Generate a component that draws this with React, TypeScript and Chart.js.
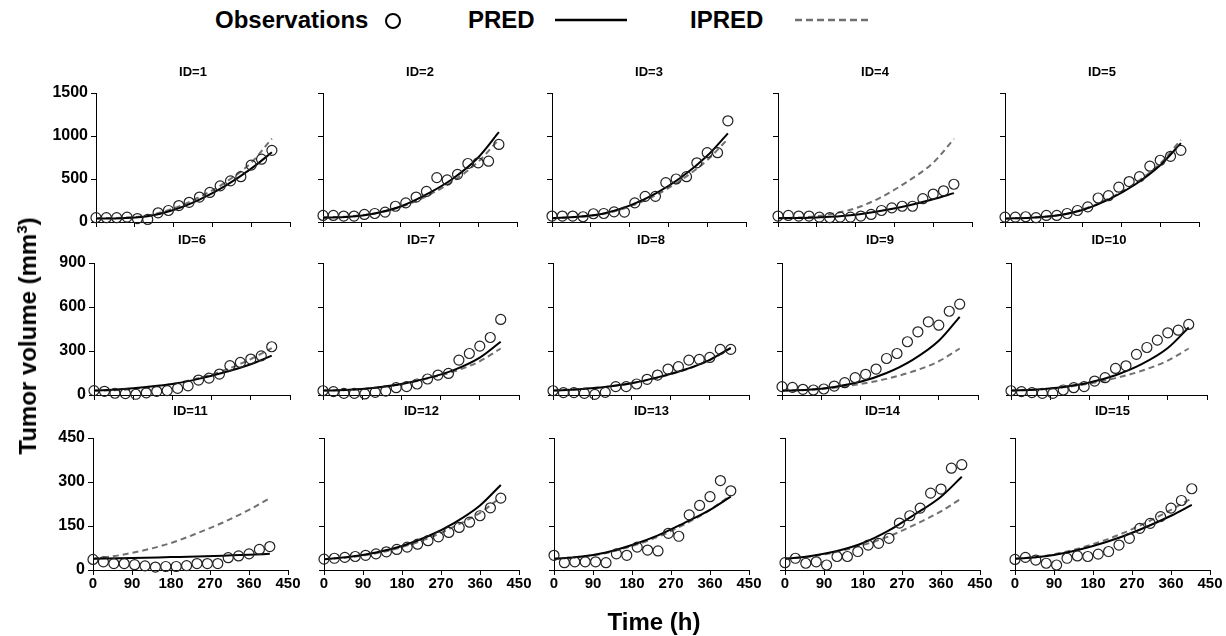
import React, { useEffect, useRef } from 'react';
import { Chart, registerables } from 'chart.js';

Chart.register(...registerables);
Chart.defaults.font.family = '"Liberation Sans", Arial, sans-serif';

// ---------------- data ----------------
const obsTimes = [0, 24, 48, 72, 96, 120, 144, 168, 192, 216, 240, 264, 288, 312, 336, 360, 384, 408];
const curveTimes = [0, 60, 120, 180, 240, 300, 360, 408];
const xTickMax = 450;
const xTickStep = 90;
const rowYMax = [1500, 900, 450];
const rowYStep = [500, 300, 150];

const obs1 = [50, 50, 50, 57, 40, 30, 107, 134, 191, 229, 290, 344, 420, 478, 527, 661, 730, 833];
const obs2 = [76, 76, 69, 69, 88, 99, 115, 183, 222, 290, 355, 516, 489, 554, 680, 688, 707, 902];
const obs3 = [69, 69, 69, 61, 96, 99, 118, 115, 222, 298, 298, 458, 500, 527, 688, 806, 806, 1177];
const obs4 = [69, 76, 69, 69, 57, 50, 57, 57, 69, 88, 134, 164, 183, 183, 271, 325, 363, 439];
const obs5 = [57, 57, 61, 50, 76, 76, 99, 134, 176, 279, 306, 405, 470, 527, 649, 718, 764, 833];
const obs6 = [30, 25, 12, 10, 5, 15, 25, 30, 45, 62, 102, 115, 143, 200, 222, 245, 267, 329];
const obs7 = [29, 23, 11, 11, 7, 18, 27, 50, 57, 75, 109, 136, 147, 238, 283, 333, 392, 515];
const obs8 = [29, 16, 16, 11, 4, 18, 57, 57, 75, 107, 136, 177, 193, 238, 243, 256, 311, 311];
const obs9 = [57, 52, 39, 34, 41, 61, 84, 118, 141, 177, 249, 283, 363, 431, 499, 476, 571, 619];
const obs10 = [29, 23, 16, 11, 11, 34, 50, 57, 95, 118, 181, 199, 277, 324, 374, 424, 442, 481];
const obs11 = [36, 28, 22, 22, 18, 14, 10, 12, 12, 15, 22, 22, 22, 42, 48, 55, 70, 80];
const obs12 = [37, 40, 43, 46, 50, 55, 62, 70, 78, 88, 100, 113, 128, 145, 163, 185, 212, 245];
const obs13 = [50, 25, 28, 28, 28, 25, 55, 50, 78, 68, 65, 125, 115, 188, 220, 250, 305, 270];
const obs14 = [25, 40, 23, 28, 17, 46, 46, 63, 85, 91, 108, 160, 185, 211, 262, 276, 347, 359];
const obs15 = [36, 43, 34, 23, 17, 40, 48, 46, 54, 63, 85, 108, 142, 159, 182, 211, 237, 277];

const pred1 = [40, 45, 68, 140, 260, 420, 620, 810];
const ipred1 = [45, 50, 75, 158, 290, 460, 690, 970];
const pred2 = [50, 60, 100, 180, 320, 500, 750, 1045];
const ipred2 = [55, 65, 100, 175, 300, 470, 700, 960];
const pred3 = [45, 60, 100, 190, 330, 520, 770, 1030];
const ipred3 = [45, 60, 95, 180, 310, 490, 720, 966];
const pred4 = [45, 47, 60, 85, 130, 190, 265, 336];
const ipred4 = [45, 55, 90, 160, 290, 470, 690, 966];
const pred5 = [40, 50, 75, 140, 260, 430, 660, 917];
const ipred5 = [40, 50, 75, 145, 270, 445, 680, 955];
const pred6 = [30, 40, 55, 75, 110, 155, 210, 268];
const ipred6 = [30, 35, 50, 75, 115, 170, 245, 320];
const pred7 = [30, 35, 50, 75, 115, 170, 255, 363];
const ipred7 = [30, 35, 50, 75, 112, 160, 230, 317];
const pred8 = [30, 40, 55, 80, 120, 170, 240, 322];
const ipred8 = [30, 40, 55, 80, 118, 168, 238, 318];
const pred9 = [30, 35, 55, 90, 150, 240, 370, 533];
const ipred9 = [30, 35, 50, 75, 110, 160, 230, 317];
const pred10 = [30, 38, 55, 85, 135, 210, 320, 460];
const ipred10 = [30, 37, 52, 78, 115, 165, 235, 317];
const pred11 = [38, 40, 42, 44, 46, 49, 52, 55];
const ipred11 = [38, 50, 68, 92, 125, 162, 205, 245];
const pred12 = [37, 45, 60, 82, 115, 160, 220, 290];
const ipred12 = [37, 44, 57, 78, 108, 148, 195, 248];
const pred13 = [38, 45, 60, 85, 118, 160, 205, 250];
const ipred13 = [38, 45, 58, 82, 113, 155, 205, 255];
const pred14 = [38, 48, 65, 92, 135, 190, 250, 318];
const ipred14 = [38, 46, 62, 85, 115, 155, 200, 245];
const pred15 = [38, 45, 60, 82, 110, 145, 185, 222];
const ipred15 = [38, 46, 63, 88, 120, 160, 205, 245];

const ids = [1, 2, 3, 4, 5, 6, 7, 8, 9, 10, 11, 12, 13, 14, 15];
const obsAll = [obs1, obs2, obs3, obs4, obs5, obs6, obs7, obs8, obs9, obs10, obs11, obs12, obs13, obs14, obs15];
const predAll = [pred1, pred2, pred3, pred4, pred5, pred6, pred7, pred8, pred9, pred10, pred11, pred12, pred13, pred14, pred15];
const ipredAll = [ipred1, ipred2, ipred3, ipred4, ipred5, ipred6, ipred7, ipred8, ipred9, ipred10, ipred11, ipred12, ipred13, ipred14, ipred15];

// ---------------- layout ----------------
const FONT = '"Liberation Sans", Arial, sans-serif';
const Y_W = 55;
const X_H = 32;
const RIGHT_PAD = 24;
const TITLE_LH = 16;
const rowTop = [93, 263, 438];
const rowBottom = [222, 395, 570];
const rowTitleY = [72, 240, 411];
const rowLefts = [
  [96, 323, 552, 778, 1005],
  [94, 323, 553, 782, 1011],
  [93, 324, 554, 785, 1015],
];
const rowWidth = [194, 196, 195];

type PanelProps = { index: number };

function Panel({ index }: PanelProps) {
  const ref = useRef<HTMLCanvasElement | null>(null);
  const row = Math.floor(index / 5);
  const col = index % 5;
  const plotL = rowLefts[row][col];
  const plotW = rowWidth[row];
  const plotT = rowTop[row];
  const plotH = rowBottom[row] - rowTop[row];
  const canvasTop = rowTitleY[row] - TITLE_LH / 2;
  const titlePadB = plotT - canvasTop - TITLE_LH;
  const cw = Y_W + plotW + RIGHT_PAD;
  const ch = plotT - canvasTop + plotH + X_H;
  const left = plotL - Y_W;

  useEffect(() => {
    const canvas = ref.current;
    if (!canvas) return;
    const showY = col === 0;
    const showX = row === 2;
    const chart = new Chart(canvas, {
      type: 'line',
      data: {
        datasets: [
          {
            label: 'Observations',
            data: obsTimes.map((t, i) => ({ x: t, y: obsAll[index][i] })),
            showLine: false,
            pointRadius: 5,
            pointBorderWidth: 1.2,
            pointBorderColor: '#222',
            pointBackgroundColor: 'rgba(0,0,0,0)',
            clip: false as any,
          },
          {
            label: 'PRED',
            data: curveTimes.map((t, i) => ({ x: t, y: predAll[index][i] })),
            borderColor: '#000',
            borderWidth: 2,
            pointRadius: 0,
            cubicInterpolationMode: 'monotone',
            fill: false,
          },
          {
            label: 'IPRED',
            data: curveTimes.map((t, i) => ({ x: t, y: ipredAll[index][i] })),
            borderColor: '#707070',
            borderWidth: 2,
            borderDash: [6, 4],
            pointRadius: 0,
            cubicInterpolationMode: 'monotone',
            fill: false,
          },
        ],
      } as any,
      options: {
        responsive: false,
        animation: false,
        events: [],
        layout: { padding: { left: 0, right: RIGHT_PAD, top: 0, bottom: 0 } },
        plugins: {
          legend: { display: false },
          tooltip: { enabled: false },
          title: {
            display: true,
            text: `ID=${ids[index]}`,
            fullSize: false,
            color: '#000',
            font: { family: FONT, size: 13, weight: 'bold', lineHeight: `${TITLE_LH}px` },
            padding: { top: 0, bottom: titlePadB },
          },
        },
        scales: {
          x: {
            type: 'linear',
            min: 0,
            max: xTickMax,
            ticks: {
              stepSize: xTickStep,
              display: showX,
              color: '#000',
              padding: 0,
              maxRotation: 0,
              font: { family: FONT, size: 15, weight: 'bold' },
              callback: (v: any) => String(v),
            },
            grid: { display: true, drawOnChartArea: false, drawTicks: true, tickLength: 5, color: '#000' },
            border: { display: true, color: '#000', width: 1 },
            afterFit: (s: any) => {
              s.height = X_H;
              s.paddingLeft = 0;
              s.paddingRight = 0;
            },
          },
          y: {
            type: 'linear',
            min: 0,
            max: rowYMax[row],
            ticks: {
              stepSize: rowYStep[row],
              display: showY,
              color: '#000',
              padding: 3,
              font: { family: FONT, size: 16, weight: 'bold' },
              callback: (v: any) => String(v),
            },
            grid: { display: true, drawOnChartArea: false, drawTicks: true, tickLength: 5, color: '#000' },
            border: { display: true, color: '#000', width: 1 },
            afterFit: (s: any) => {
              s.width = Y_W;
              s.paddingTop = 0;
              s.paddingBottom = 0;
            },
          },
        },
      } as any,
    });
    return () => chart.destroy();
  }, [index]);

  return (
    <canvas
      ref={ref}
      width={cw}
      height={ch}
      style={{ position: 'absolute', left, top: canvasTop, width: cw, height: ch }}
    />
  );
}

const textStyle: React.CSSProperties = {
  position: 'absolute',
  fontFamily: FONT,
  fontWeight: 'bold',
  fontSize: 24,
  lineHeight: '28px',
  color: '#000',
  whiteSpace: 'nowrap',
};

export default function App() {
  return (
    <div
      style={{
        position: 'absolute',
        left: 0,
        top: 0,
        width: 1226,
        height: 636,
        background: '#fff',
        overflow: 'hidden',
      }}
    >
      {/* legend */}
      <div style={{ ...textStyle, left: 215, top: 6 }}>Observations</div>
      <svg style={{ position: 'absolute', left: 382, top: 10 }} width={22} height={22}>
        <circle cx={11} cy={11} r={7} fill="none" stroke="#000" strokeWidth={2} />
      </svg>
      <div style={{ ...textStyle, left: 468, top: 6 }}>PRED</div>
      <svg style={{ position: 'absolute', left: 555, top: 15 }} width={72} height={10}>
        <line x1={0} y1={5} x2={72} y2={5} stroke="#000" strokeWidth={2.5} />
      </svg>
      <div style={{ ...textStyle, left: 690, top: 6 }}>IPRED</div>
      <svg style={{ position: 'absolute', left: 795, top: 15 }} width={76} height={10}>
        <line x1={0} y1={5} x2={76} y2={5} stroke="#707070" strokeWidth={2.5} strokeDasharray="7 4" />
      </svg>

      {ids.map((_, i) => (
        <Panel key={i} index={i} />
      ))}

      {/* axis titles */}
      <div
        style={{
          ...textStyle,
          left: 28,
          top: 336,
          transform: 'translate(-50%, -50%) rotate(-90deg)',
        }}
      >
        Tumor volume (mm<sup style={{ fontSize: 15, lineHeight: 0 }}>3</sup>)
      </div>
      <div style={{ ...textStyle, left: 654, top: 622, transform: 'translate(-50%, -50%)' }}>Time (h)</div>
    </div>
  );
}
